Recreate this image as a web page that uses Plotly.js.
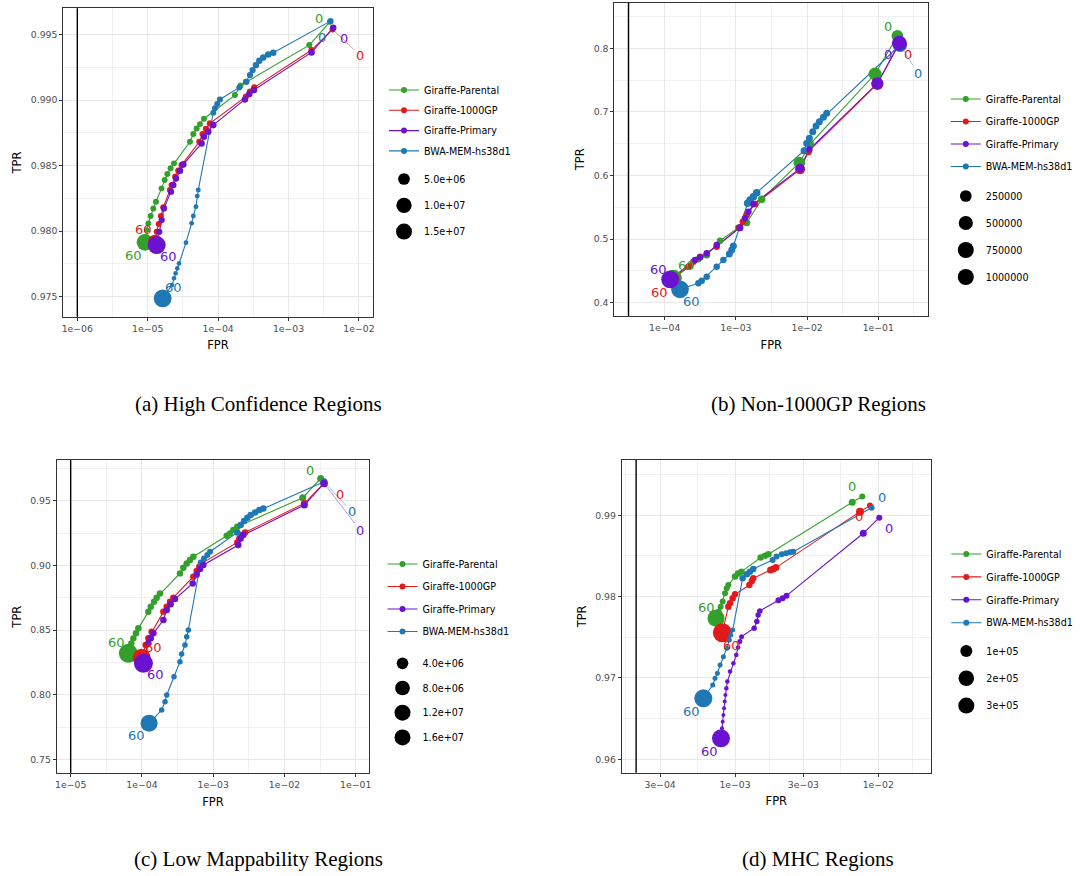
<!DOCTYPE html>
<html>
<head>
<meta charset="utf-8">
<script src="https://cdn.plot.ly/plotly-3.0.1.min.js"></script>
<style>
  html, body { margin: 0; padding: 0; background: #ffffff; }
  #chart { width: 1080px; height: 876px; }
</style>
</head>
<body>
<div id="chart"></div>
<script>
// ROC-style curves (FPR vs TPR) over mapping-quality thresholds, four region sets.
// Point size encodes the number of reads at each threshold.

const seriesNames = ['Giraffe-Parental', 'Giraffe-1000GP', 'Giraffe-Primary', 'BWA-MEM-hs38d1'];
const seriesColors = ['#33a02c', '#e31a1c', '#6a12d0', '#1f78b4'];
const thresholdLabels = ['0', '60'];
const captions = ['(a) High Confidence Regions', '(b) Non-1000GP Regions',
                  '(c) Low Mappability Regions', '(d) MHC Regions'];
const floorFpr = [1e-6, 3.1e-5, 1e-5, 2.04e-4];

// ---------- (a) High Confidence Regions ----------
const aParentalFpr = [3.87e-3, 1.97e-3, 2.54e-4, 2.08e-4, 1.73e-4, 6.29e-5, 5.51e-5, 4.95e-5, 4.44e-5, 3.98e-5, 2.36e-5, 2.11e-5, 1.90e-5, 1.74e-5, 1.57e-5, 1.31e-5, 1.20e-5, 1.10e-5, 1.02e-5, 9.65e-6, 9.14e-6];
const aParentalTpr = [0.99599, 0.99421, 0.99141, 0.99113, 0.99039, 0.98859, 0.98818, 0.98785, 0.98742, 0.98683, 0.98518, 0.98480, 0.98436, 0.98391, 0.98327, 0.98225, 0.98174, 0.98116, 0.98060, 0.98009, 0.97915];
const aParentalReads = [5.9e5, 6.0e5, 5.8e5, 5.6e5, 6.1e5, 5.7e5, 5.4e5, 6.0e5, 6.2e5, 5.8e5, 5.6e5, 5.9e5, 6.0e5, 5.7e5, 5.5e5, 6.0e5, 5.8e5, 5.6e5, 5.2e5, 4.3e5, 1.23e7];

const a1000gpFpr = [4.22e-3, 2.12e-3, 3.26e-4, 2.83e-4, 2.48e-4, 7.65e-5, 6.71e-5, 6.02e-5, 5.40e-5, 3.03e-5, 2.72e-5, 2.46e-5, 2.18e-5, 2.07e-5, 1.66e-5, 1.54e-5, 1.43e-5, 1.34e-5, 1.27e-5];
const a1000gpTpr = [0.99541, 0.99383, 0.99098, 0.99065, 0.99027, 0.98823, 0.98782, 0.98742, 0.98683, 0.98505, 0.98462, 0.98416, 0.98352, 0.98314, 0.98182, 0.98116, 0.98055, 0.97996, 0.97920];
const a1000gpReads = [6.2e5, 6.5e5, 7.0e5, 6.8e5, 6.5e5, 7.2e5, 7.0e5, 6.8e5, 6.6e5, 7.0e5, 6.9e5, 6.7e5, 6.5e5, 6.3e5, 6.0e5, 5.8e5, 5.6e5, 5.4e5, 8.0e6];

const aPrimaryFpr = [4.31e-3, 2.12e-3, 3.22e-4, 2.77e-4, 2.40e-4, 8.53e-5, 7.24e-5, 6.29e-5, 5.82e-5, 3.20e-5, 2.87e-5, 2.52e-5, 2.31e-5, 2.14e-5, 1.70e-5, 1.58e-5, 1.46e-5, 1.34e-5];
const aPrimaryTpr = [0.99553, 0.99365, 0.99078, 0.99047, 0.99006, 0.98810, 0.98760, 0.98721, 0.98670, 0.98510, 0.98462, 0.98403, 0.98352, 0.98302, 0.98174, 0.98085, 0.97996, 0.97894];
const aPrimaryReads = [8.0e5, 8.5e5, 8.2e5, 8.0e5, 7.8e5, 8.4e5, 8.1e5, 7.9e5, 7.7e5, 8.3e5, 8.0e5, 7.8e5, 7.6e5, 7.4e5, 7.0e5, 6.8e5, 6.5e5, 1.48e7];

const aBwaFpr = [3.95e-3, 6.06e-4, 5.15e-4, 4.37e-4, 3.84e-4, 3.44e-4, 3.09e-4, 2.83e-4, 2.48e-4, 2.00e-4, 1.06e-4, 9.72e-5, 9.01e-5, 8.53e-5, 5.22e-5, 5.05e-5, 4.84e-5, 4.44e-5, 4.20e-5, 3.49e-5, 2.78e-5, 2.63e-5, 2.49e-5, 2.36e-5, 2.21e-5, 1.63e-5];
const aBwaTpr = [0.99604, 0.99363, 0.99350, 0.99327, 0.99302, 0.99268, 0.99230, 0.99192, 0.99141, 0.99098, 0.99006, 0.98971, 0.98938, 0.98905, 0.98314, 0.98268, 0.98187, 0.98116, 0.98060, 0.97912, 0.97754, 0.97716, 0.97678, 0.97640, 0.97589, 0.97487];
const aBwaReads = [6.0e5, 8.0e5, 8.2e5, 8.0e5, 7.8e5, 7.5e5, 7.2e5, 7.0e5, 6.5e5, 6.0e5, 6.2e5, 6.0e5, 5.8e5, 5.5e5, 2.6e5, 2.4e5, 2.3e5, 2.2e5, 2.1e5, 2.0e5, 1.9e5, 1.8e5, 1.7e5, 1.6e5, 1.5e5, 1.42e7];

const aXTicks = [1e-6, 1e-5, 1e-4, 1e-3, 1e-2];
const aXTickLabels = ['1e\u221206', '1e\u221205', '1e\u221204', '1e\u221203', '1e\u221202'];
const aYTicks = [0.975, 0.980, 0.985, 0.990, 0.995];
const aSizeBreaks = [5e6, 1e7, 1.5e7];
const aSizeLabels = ['5.0e+06', '1.0e+07', '1.5e+07'];

// ---------- (b) Non-1000GP Regions ----------
const bParentalFpr = [0.1853, 0.0900, 0.0110, 7.79e-3, 2.30e-3, 1.42e-3, 1.08e-3, 5.99e-4, 3.89e-4, 2.97e-4, 2.27e-4, 1.32e-4];
const bParentalTpr = [0.8194, 0.7596, 0.6495, 0.6202, 0.5625, 0.5258, 0.5180, 0.4975, 0.4750, 0.4682, 0.4582, 0.4383];
const bParentalReads = [250000, 370000, 36700, 250000, 22500, 11700, 4400, 4400, 11700, 4400, 4400, 887000];

const b1000gpFpr = [0.1977, 0.0970, 0.01042, 7.96e-3, 1.86e-3, 1.42e-3, 1.25e-3, 1.12e-3, 5.37e-4, 3.14e-4, 2.53e-4, 2.15e-4, 1.25e-4];
const b1000gpTpr = [0.8079, 0.7439, 0.6375, 0.6097, 0.5552, 0.5379, 0.5274, 0.5180, 0.4881, 0.4723, 0.4645, 0.4566, 0.4357];
const b1000gpReads = [276000, 276000, 11700, 128000, 4400, 4400, 4400, 11700, 4400, 4400, 4400, 4400, 737000];

const bPrimaryFpr = [0.1977, 0.0970, 0.01076, 7.96e-3, 1.76e-3, 1.50e-3, 1.34e-3, 1.14e-3, 5.37e-4, 3.89e-4, 3.14e-4, 2.67e-4, 1.19e-4];
const bPrimaryTpr = [0.8079, 0.7450, 0.6412, 0.6113, 0.5552, 0.5431, 0.5326, 0.5180, 0.4907, 0.4776, 0.4713, 0.4671, 0.4367];
const bPrimaryReads = [600000, 276000, 4400, 75600, 4400, 4400, 4400, 11700, 4400, 4400, 4400, 4400, 1000000];

const bBwaFpr = [0.2019, 0.01885, 0.01693, 0.01487, 0.01335, 0.01199, 0.01076, 9.87e-3, 9.06e-3, 1.96e-3, 1.76e-3, 1.58e-3, 1.46e-3, 9.21e-4, 8.73e-4, 8.09e-4, 6.67e-4, 5.37e-4, 3.89e-4, 3.31e-4, 2.97e-4, 1.64e-4];
const bBwaTpr = [0.8052, 0.6978, 0.6915, 0.6847, 0.6779, 0.6689, 0.6585, 0.6506, 0.6391, 0.5730, 0.5667, 0.5615, 0.5562, 0.4891, 0.4828, 0.4765, 0.4671, 0.4566, 0.4409, 0.4346, 0.4304, 0.4210];
const bBwaReads = [478000, 11700, 11700, 11700, 11700, 11700, 11700, 11700, 11700, 22500, 22500, 22500, 22500, 11700, 11700, 11700, 4400, 4400, 4400, 4400, 4400, 1000000];

const bXTicks = [1e-4, 1e-3, 1e-2, 1e-1];
const bXTickLabels = ['1e\u221204', '1e\u221203', '1e\u221202', '1e\u221201'];
const bYTicks = [0.4, 0.5, 0.6, 0.7, 0.8];
const bSizeBreaks = [250000, 500000, 750000, 1000000];
const bSizeLabels = ['250000', '500000', '750000', '1000000'];

// ---------- (c) Low Mappability Regions ----------
const cParentalFpr = [0.03227, 0.01804, 2.18e-3, 1.92e-3, 1.72e-3, 1.55e-3, 5.27e-4, 4.73e-4, 4.25e-4, 3.81e-4, 3.42e-4, 1.79e-4, 1.61e-4, 1.48e-4, 1.33e-4, 1.23e-4, 8.91e-5, 8.26e-5, 7.58e-5, 7.10e-5, 6.45e-5];
const cParentalTpr = [0.96727, 0.95232, 0.92990, 0.92732, 0.92474, 0.92294, 0.90670, 0.90412, 0.90155, 0.89820, 0.89381, 0.87835, 0.87500, 0.87191, 0.86804, 0.86418, 0.85129, 0.84742, 0.84356, 0.83969, 0.83196];
const cParentalReads = [507000, 507000, 331000, 340000, 320000, 330000, 335000, 325000, 330000, 340000, 320000, 330000, 335000, 325000, 330000, 320000, 330000, 340000, 320000, 310000, 16000000];

const c1000gpFpr = [0.03594, 0.01903, 2.80e-3, 2.54e-3, 2.33e-3, 2.18e-3, 6.90e-4, 6.39e-4, 5.87e-4, 5.27e-4, 2.76e-4, 2.48e-4, 2.23e-4, 2.00e-4, 1.37e-4, 1.23e-4, 1.13e-4, 9.92e-5];
const c1000gpTpr = [0.96340, 0.94794, 0.92552, 0.92345, 0.92088, 0.91778, 0.90155, 0.89897, 0.89562, 0.89124, 0.87500, 0.87191, 0.86804, 0.86418, 0.84871, 0.84356, 0.83840, 0.82861];
const c1000gpReads = [507000, 507000, 331000, 331000, 331000, 331000, 331000, 331000, 331000, 331000, 331000, 331000, 331000, 331000, 331000, 331000, 331000, 13880000];

const cPrimaryFpr = [0.03594, 0.01903, 2.65e-3, 2.43e-3, 2.25e-3, 7.28e-4, 6.53e-4, 5.87e-4, 5.16e-4, 2.91e-4, 2.53e-4, 2.23e-4, 2.00e-4, 1.45e-4, 1.33e-4, 1.23e-4, 1.05e-4];
const cPrimaryTpr = [0.96340, 0.94665, 0.92345, 0.92088, 0.91572, 0.90026, 0.89717, 0.89304, 0.88608, 0.87397, 0.86985, 0.86546, 0.85773, 0.84742, 0.84356, 0.83969, 0.82423];
const cPrimaryReads = [721000, 507000, 331000, 331000, 331000, 331000, 331000, 331000, 331000, 331000, 331000, 331000, 331000, 331000, 331000, 331000, 16000000];

const cBwaFpr = [0.03594, 5.06e-3, 4.45e-3, 3.87e-3, 3.36e-3, 3.02e-3, 2.71e-3, 2.43e-3, 2.18e-3, 9.03e-4, 8.28e-4, 7.43e-4, 6.68e-4, 4.48e-4, 4.25e-4, 4.02e-4, 3.61e-4, 3.42e-4, 2.82e-4, 2.23e-4, 2.11e-4, 1.89e-4, 1.26e-4];
const cBwaTpr = [0.96469, 0.94407, 0.94278, 0.94098, 0.93892, 0.93686, 0.93428, 0.93119, 0.92552, 0.91057, 0.90799, 0.90541, 0.90232, 0.85000, 0.84485, 0.83840, 0.83144, 0.82552, 0.81392, 0.79974, 0.79459, 0.78814, 0.77784];
const cBwaReads = [507000, 331000, 331000, 331000, 331000, 331000, 331000, 331000, 331000, 192000, 192000, 192000, 192000, 90800, 90800, 90800, 90800, 90800, 90800, 90800, 90800, 90800, 11920000];

const cXTicks = [1e-5, 1e-4, 1e-3, 1e-2, 1e-1];
const cXTickLabels = ['1e\u221205', '1e\u221204', '1e\u221203', '1e\u221202', '1e\u221201'];
const cYTicks = [0.75, 0.80, 0.85, 0.90, 0.95];
const cSizeBreaks = [4e6, 8e6, 1.2e7, 1.6e7];
const cSizeLabels = ['4.0e+06', '8.0e+06', '1.2e+07', '1.6e+07'];

// ---------- (d) MHC Regions ----------
const dParentalFpr = [7.73e-3, 6.58e-3, 1.71e-3, 1.62e-3, 1.51e-3, 1.11e-3, 1.05e-3, 1.00e-3, 8.98e-4, 8.75e-4, 8.52e-4, 8.20e-4, 7.94e-4, 7.69e-4, 7.37e-4];
const dParentalTpr = [0.99230, 0.99160, 0.98520, 0.98504, 0.98480, 0.98307, 0.98283, 0.98246, 0.98143, 0.98102, 0.98041, 0.97939, 0.97877, 0.97816, 0.97734];
const dParentalReads = [9140, 17500, 13000, 13000, 13000, 13000, 13000, 13000, 9140, 9140, 9140, 9140, 9140, 9140, 250000];

const d1000gpFpr = [8.75e-3, 7.45e-3, 1.93e-3, 1.85e-3, 1.77e-3, 1.34e-3, 1.31e-3, 1.26e-3, 1.00e-3, 9.63e-4, 9.23e-4, 8.98e-4, 8.16e-4];
const d1000gpTpr = [0.99119, 0.99045, 0.98357, 0.98340, 0.98328, 0.98225, 0.98193, 0.98143, 0.98029, 0.97979, 0.97918, 0.97877, 0.97557];
const d1000gpReads = [9140, 28600, 17500, 17500, 17500, 13000, 13000, 13000, 13000, 13000, 13000, 13000, 329000];

const dPrimaryFpr = [0.01016, 7.86e-3, 2.29e-3, 2.15e-3, 2.01e-3, 1.49e-3, 1.45e-3, 1.42e-3, 1.36e-3, 1.11e-3, 1.08e-3, 1.05e-3, 1.02e-3, 9.74e-4, 9.23e-4, 8.84e-4, 8.70e-4, 8.56e-4, 8.47e-4, 8.38e-4, 8.29e-4, 8.20e-4, 8.11e-4, 7.98e-4];
const dPrimaryTpr = [0.98971, 0.98779, 0.98012, 0.97980, 0.97955, 0.97824, 0.97775, 0.97693, 0.97611, 0.97508, 0.97447, 0.97373, 0.97283, 0.97180, 0.97078, 0.96955, 0.96873, 0.96791, 0.96709, 0.96627, 0.96545, 0.96463, 0.96381, 0.96258];
const dPrimaryReads = [9140, 17500, 9140, 9140, 9140, 5960, 5960, 5960, 5960, 3460, 3460, 1640, 1640, 1640, 1640, 1640, 1640, 487, 487, 487, 487, 487, 487, 288000];

const dBwaFpr = [8.98e-3, 2.55e-3, 2.42e-3, 2.27e-3, 2.12e-3, 1.95e-3, 1.83e-3, 1.34e-3, 1.27e-3, 1.21e-3, 1.13e-3, 9.63e-4, 9.33e-4, 9.13e-4, 8.75e-4, 8.29e-4, 7.86e-4, 7.53e-4, 7.25e-4, 6.99e-4, 6.01e-4];
const dBwaTpr = [0.99094, 0.98553, 0.98545, 0.98533, 0.98520, 0.98492, 0.98451, 0.98340, 0.98307, 0.98275, 0.98225, 0.97590, 0.97529, 0.97467, 0.97365, 0.97262, 0.97160, 0.97057, 0.96996, 0.96914, 0.96750];
const dBwaReads = [9140, 9140, 9140, 9140, 9140, 9140, 9140, 13000, 13000, 13000, 13000, 3460, 3460, 3460, 3460, 3460, 3460, 3460, 3460, 3460, 288000];

const dXTicks = [3e-4, 1e-3, 3e-3, 1e-2];
const dXTickLabels = ['3e\u221204', '1e\u221203', '3e\u221203', '1e\u221202'];
const dYTicks = [0.96, 0.97, 0.98, 0.99];
const dSizeBreaks = [1e5, 2e5, 3e5];
const dSizeLabels = ['1e+05', '2e+05', '3e+05'];

// ---------- assemble panels ----------
const panelData = [
  { series: [[aParentalFpr, aParentalTpr, aParentalReads], [a1000gpFpr, a1000gpTpr, a1000gpReads],
             [aPrimaryFpr, aPrimaryTpr, aPrimaryReads], [aBwaFpr, aBwaTpr, aBwaReads]],
    xTicks: aXTicks, xTickLabels: aXTickLabels, yTicks: aYTicks, sizeBreaks: aSizeBreaks, sizeLabels: aSizeLabels },
  { series: [[bParentalFpr, bParentalTpr, bParentalReads], [b1000gpFpr, b1000gpTpr, b1000gpReads],
             [bPrimaryFpr, bPrimaryTpr, bPrimaryReads], [bBwaFpr, bBwaTpr, bBwaReads]],
    xTicks: bXTicks, xTickLabels: bXTickLabels, yTicks: bYTicks, sizeBreaks: bSizeBreaks, sizeLabels: bSizeLabels },
  { series: [[cParentalFpr, cParentalTpr, cParentalReads], [c1000gpFpr, c1000gpTpr, c1000gpReads],
             [cPrimaryFpr, cPrimaryTpr, cPrimaryReads], [cBwaFpr, cBwaTpr, cBwaReads]],
    xTicks: cXTicks, xTickLabels: cXTickLabels, yTicks: cYTicks, sizeBreaks: cSizeBreaks, sizeLabels: cSizeLabels },
  { series: [[dParentalFpr, dParentalTpr, dParentalReads], [d1000gpFpr, d1000gpTpr, d1000gpReads],
             [dPrimaryFpr, dPrimaryTpr, dPrimaryReads], [dBwaFpr, dBwaTpr, dBwaReads]],
    xTicks: dXTicks, xTickLabels: dXTickLabels, yTicks: dYTicks, sizeBreaks: dSizeBreaks, sizeLabels: dSizeLabels }
];

// Layout / styling per panel (pixel boxes on the 1080x876 page).
// lab0 / lab60: [dx, dy, arrow] offsets of the end labels from their points, per series.
const panelStyle = [
  { box: [63.3, 372.7, 8.3, 316.7], xRange: [-6.199, -1.805], yRange: [0.97347, 0.99702],
    yFormat: '.3f', xGridExt: [1e-7, 1e-1], yStep: 0.005,
    size: { d0: 3.0, k: 0.0039 },
    legend: [384, 75.5, 1.3], sizeLegend: [384, 164.5, 7.3], caption: [258, 404],
    lab0: [[-10.7, -3], [27.3, 25.7, true], [10.7, 10.6], [-9, 16.3]],
    lab60: [[-11.7, 12.7], [-11.7, -11.7], [11.6, 11.7], [11.3, -11]] },
  { box: [614.3, 928.3, 2.7, 316.0], xRange: [-4.708, -0.298], yRange: [0.3791, 0.8717],
    yFormat: '.1f', xGridExt: [1e-5, 1], yStep: 0.1,
    size: { d0: 5.7, k: 0.012 },
    legend: [945.8, 84.5, 3.5], sizeLegend: [945.8, 181.5, 8], caption: [818, 404],
    lab0: [[-9, -9.3], [9, 11.7], [-11, 11.7], [18.3, 29, true]],
    lab60: [[12.7, -13.3], [-11.7, 12.7], [-11.7, -10], [11.7, 12.4]] },
  { box: [56.7, 369.3, 460.0, 773.3], xRange: [-5.196, -0.809], yRange: [0.7392, 0.9815],
    yFormat: '.2f', xGridExt: [1e-6, 1], yStep: 0.05,
    size: { d0: 4.4, k: 0.00365 },
    legend: [382.5, 549.5, 3.5], sizeLegend: [382.5, 648.8, 5.7], caption: [258, 859],
    lab0: [[-10.7, -8.3], [16, 11], [36, 46.7, true], [27.7, 30, true]],
    lab60: [[-11.6, -11], [12.3, -10], [11.7, 11], [-12.3, 12.4]] },
  { box: [621.7, 931.0, 460.0, 772.7], xRange: [-3.791, -1.632], yRange: [0.95835, 0.9968],
    yFormat: '.2f', xGridExt: [1e-4, 3e-2], yStep: 0.01,
    size: { d0: 3.4, k: 0.0272 },
    legend: [946.3, 539.5, 3.9], sizeLegend: [946.3, 636.5, 8.3], caption: [818, 859],
    lab0: [[-10.6, -10], [-11, 11], [10, 10.6], [10, -10]],
    lab60: [[-10, -10.6], [9.4, 13], [-11.7, 12.7], [-11.6, 13.4]] }
];

const W = 1080, H = 876;
const SANS = 'DejaVu Sans, Verdana, sans-serif';
const SERIF = 'Liberation Serif, Times New Roman, serif';
const GRID = '#e8e8e8', GRID_MINOR = '#eeeeee', FRAME = '#333333', TICKTXT = '#4d4d4d';
const drawOrder = [0, 1, 3, 2];   // Primary drawn last, on top

function fade(hex, a) {
  const n = parseInt(hex.slice(1), 16);
  return 'rgba(' + (n >> 16) + ',' + ((n >> 8) & 255) + ',' + (n & 255) + ',' + a + ')';
}
function diameter(scale, reads) { return scale.d0 + scale.k * Math.sqrt(reads); }
function legendKey(n) { return n === 0 ? 'legend' : 'legend' + (n + 1); }

const traces = [];
const layout = {
  width: W, height: H,
  margin: { l: 0, r: 0, t: 0, b: 0 },
  paper_bgcolor: '#ffffff', plot_bgcolor: '#ffffff',
  showlegend: true, hovermode: false,
  annotations: [], shapes: []
};

panelData.forEach((p, i) => {
  const st = panelStyle[i];
  const sfx = i === 0 ? '' : String(i + 1);
  const xid = 'x' + sfx, yid = 'y' + sfx;
  const [l, r, t, b] = st.box;

  // minor grid lines halfway between major ticks (geometric on the log axis)
  const xe = [st.xGridExt[0]].concat(p.xTicks, [st.xGridExt[1]]);
  const xMinor = [];
  for (let j = 0; j + 1 < xe.length; j++) xMinor.push(Math.sqrt(xe[j] * xe[j + 1]));
  const ye = [p.yTicks[0] - st.yStep].concat(p.yTicks, [p.yTicks[p.yTicks.length - 1] + st.yStep]);
  const yMinor = [];
  for (let j = 0; j + 1 < ye.length; j++) yMinor.push((ye[j] + ye[j + 1]) / 2);

  layout['xaxis' + sfx] = {
    type: 'log', domain: [l / W, r / W], range: st.xRange, anchor: yid,
    tickmode: 'array', tickvals: p.xTicks, ticktext: p.xTickLabels,
    ticks: 'outside', ticklen: 3, tickwidth: 1, tickcolor: FRAME,
    showline: true, mirror: true, linecolor: FRAME, linewidth: 1,
    showgrid: true, gridcolor: GRID, gridwidth: 1, zeroline: false,
    minor: { tickmode: 'array', tickvals: xMinor, showgrid: true, gridcolor: GRID_MINOR, gridwidth: 0.8, ticks: '' },
    tickfont: { family: SANS, size: 9.3, color: TICKTXT },
    title: { text: 'FPR', font: { family: SANS, size: 11.5, color: '#000000' }, standoff: 8 },
    automargin: false, fixedrange: true
  };
  layout['yaxis' + sfx] = {
    domain: [1 - b / H, 1 - t / H], range: st.yRange, anchor: xid,
    tickmode: 'array', tickvals: p.yTicks, tickformat: st.yFormat,
    ticks: 'outside', ticklen: 3, tickwidth: 1, tickcolor: FRAME,
    showline: true, mirror: true, linecolor: FRAME, linewidth: 1,
    showgrid: true, gridcolor: GRID, gridwidth: 1, zeroline: false,
    minor: { tickmode: 'array', tickvals: yMinor, showgrid: true, gridcolor: GRID_MINOR, gridwidth: 0.8, ticks: '' },
    tickfont: { family: SANS, size: 9.3, color: TICKTXT },
    title: { text: 'TPR', font: { family: SANS, size: 11.5, color: '#000000' }, standoff: 6 },
    automargin: false, fixedrange: true
  };

  // vertical reference line at the lowest resolvable FPR
  layout.shapes.push({
    type: 'line', xref: xid, yref: yid + ' domain', x0: floorFpr[i], x1: floorFpr[i], y0: 0, y1: 1,
    line: { color: '#000000', width: 1.4 }, layer: 'above'
  });

  // connecting lines first, then points
  drawOrder.forEach(s => {
    const [fpr, tpr] = p.series[s];
    traces.push({
      type: 'scatter', mode: 'lines', x: fpr, y: tpr, xaxis: xid, yaxis: yid,
      line: { color: seriesColors[s], width: 1.1 }, showlegend: false, hoverinfo: 'skip'
    });
  });
  drawOrder.forEach(s => {
    const [fpr, tpr, reads] = p.series[s];
    traces.push({
      type: 'scatter', mode: 'markers', x: fpr, y: tpr, xaxis: xid, yaxis: yid,
      marker: { color: seriesColors[s], size: reads.map(v => diameter(st.size, v)),
                sizemode: 'diameter', line: { width: 0 }, opacity: 1 },
      showlegend: false, hoverinfo: 'skip'
    });
  });

  // threshold labels at both ends of each curve
  p.series.forEach(([fpr, tpr], s) => {
    [[0, st.lab0[s], thresholdLabels[0]], [fpr.length - 1, st.lab60[s], thresholdLabels[1]]].forEach(([idx, off, txt]) => {
      const ann = {
        xref: xid, yref: yid, x: Math.log10(fpr[idx]), y: tpr[idx], text: txt,
        font: { family: SANS, size: 13, color: seriesColors[s] }
      };
      if (off[2]) {
        Object.assign(ann, { showarrow: true, ax: off[0], ay: off[1], arrowhead: 0, arrowwidth: 1,
                             arrowcolor: fade(seriesColors[s], 0.45), standoff: 3 });
      } else {
        Object.assign(ann, { showarrow: false, xshift: off[0], yshift: -off[1] });
      }
      layout.annotations.push(ann);
    });
  });

  // series legend
  const lgA = legendKey(i), lgB = legendKey(i + 4);
  seriesNames.forEach((name, s) => {
    traces.push({
      type: 'scatter', mode: 'lines+markers', x: [null], y: [null], xaxis: xid, yaxis: yid,
      name: name, legend: lgA, legendgroup: 'p' + i + 's' + s,
      line: { color: seriesColors[s], width: 1.1 }, marker: { color: seriesColors[s], size: 6 },
      hoverinfo: 'skip'
    });
  });
  // size legend
  p.sizeBreaks.forEach((v, k) => {
    traces.push({
      type: 'scatter', mode: 'markers', x: [null], y: [null], xaxis: xid, yaxis: yid,
      name: p.sizeLabels[k], legend: lgB, legendgroup: 'p' + i + 'z' + k,
      marker: { color: '#000000', size: diameter(st.size, v) }, hoverinfo: 'skip'
    });
  });
  const legendCommon = {
    xanchor: 'left', yanchor: 'top', bgcolor: 'rgba(0,0,0,0)', borderwidth: 0,
    font: { family: SANS, size: 9.6, color: '#000000' }, traceorder: 'grouped',
    itemsizing: 'trace', itemclick: false, itemdoubleclick: false
  };
  layout[lgA] = Object.assign({}, legendCommon,
    { x: st.legend[0] / W, y: 1 - st.legend[1] / H, tracegroupgap: st.legend[2] });
  layout[lgB] = Object.assign({}, legendCommon,
    { x: st.sizeLegend[0] / W, y: 1 - st.sizeLegend[1] / H, tracegroupgap: st.sizeLegend[2] });

  // sub-figure caption
  layout.annotations.push({
    xref: 'paper', yref: 'paper', x: st.caption[0] / W, y: 1 - st.caption[1] / H,
    xanchor: 'center', yanchor: 'middle', showarrow: false, text: captions[i],
    font: { family: SERIF, size: 21, color: '#000000' }
  });
});

Plotly.newPlot('chart', traces, layout, { staticPlot: true, displayModeBar: false });
</script>
</body>
</html>
